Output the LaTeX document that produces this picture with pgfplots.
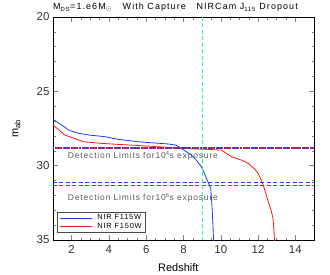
\documentclass[border=0pt]{standalone}
\usepackage{fontspec}
\setmainfont{Liberation Sans}
\usepackage{pgfplots}
\pgfplotsset{compat=1.18}
\definecolor{myblue}{RGB}{20,60,255}
\definecolor{myred}{RGB}{255,20,20}
\definecolor{mygreen}{RGB}{60,240,140}
\begin{document}
\begin{tikzpicture}[x=1bp,y=1bp]
\begin{axis}[
  at={(53bp,35bp)}, anchor=south west,
  scale only axis, width=261bp, height=223bp,
  xmin=1, xmax=15, ymin=20, ymax=35,
  y dir=reverse,
  xtick={2,4,...,14}, ytick={20,25,30,35},
  minor x tick num=3, minor y tick num=4,
  tick align=inside, tick pos=both,
  major tick length=5bp, minor tick length=2.5bp,
  tick label style={font=\fontsize{11.5}{13}\selectfont, color=black!80},
  xticklabel style={yshift=-2bp},
  /pgf/number format/assume math mode=true,
  xlabel={Redshift}, xlabel style={font=\fontsize{11}{13}\selectfont, at={(axis description cs:0.48,-0.142)}, anchor=south, inner sep=0pt},
  ylabel={m\textsubscript{ab}}, ylabel style={font=\fontsize{11}{13}\selectfont, at={(axis description cs:-0.14,0.5)}, anchor=center, inner sep=0pt},
  axis line style={line width=0.6pt},
  tick style={line width=0.5pt},
  clip=true,
  legend style={at={(3.7/261,7.3/223)}, anchor=south west, font=\fontsize{7.5}{8}\selectfont\addfontfeature{LetterSpace=10}, draw=black!70, inner xsep=3pt, inner ysep=2pt, nodes={inner sep=0.8pt}, row sep=0pt, legend cell align=left},
  legend image code/.code={\draw[#1] (0bp,0bp) -- (32bp,0bp);},
]
\addplot[color=myblue, draw=myblue, line width=0.8pt] coordinates {
(1.0,26.88) (1.91,27.65) (2.36,27.82) (3.0,27.95) (3.79,28.05) (4.5,28.23) (5.57,28.39) (6.4,28.47) (7.18,28.54) (7.6,28.62) (7.89,28.85) (8.2,29.1) (8.43,29.3) (8.7,29.65) (8.96,30.07) (9.1,30.45) (9.23,30.85) (9.35,31.2) (9.46,31.52) (9.5,32.2) (9.54,32.98) (9.58,34.0) (9.62,35.2)
};
\addlegendentry{\hspace{4bp}NIR F115W}
\addplot[color=myred, draw=myred, line width=0.8pt] coordinates {
(1.0,27.26) (1.64,27.94) (2.63,28.39) (3.61,28.5) (4.5,28.57) (5.39,28.63) (6.3,28.7) (7.18,28.77) (7.89,28.83) (8.43,28.86) (9.2,28.9) (10.04,28.95) (10.57,29.4) (11.1,29.62) (11.47,29.84) (11.8,30.2) (12.0,30.51) (12.18,31.0) (12.27,31.3) (12.4,31.8) (12.54,32.42) (12.7,33.0) (12.8,33.54) (12.85,34.3) (12.89,35.2)
};
\addlegendentry{\hspace{4bp}NIR F150W}
\addplot[color=myred, draw=myred, line width=1.4pt, dash pattern=on 1.4pt off 1.8pt, forget plot] coordinates {(1,28.8) (15,28.8)};
\addplot[color=myblue, draw=myblue, line width=1.4pt, dash pattern=on 1.4pt off 1.8pt, dash phase=1.6pt, forget plot] coordinates {(1,28.8) (15,28.8)};
\addplot[color=myblue, draw=myblue, line width=1.3pt, dash pattern=on 4pt off 2.5pt, forget plot] coordinates {(1,31.15) (15,31.15)};
\addplot[color=myred, draw=myred, line width=1.3pt, dash pattern=on 4pt off 2.5pt, forget plot] coordinates {(1,31.34) (15,31.34)};
\addplot[color=mygreen, draw=mygreen, dash pattern=on 4pt off 2.5pt, line width=1.2pt, forget plot] coordinates {(9,20) (9,35)};
\node[anchor=west, text=black!65, font=\fontsize{8.5}{9}\selectfont\addfontfeature{LetterSpace=10}, inner sep=0pt] at (axis cs:1.79,29.35) {Detection Limits for10\textsuperscript{4}s exposure};
\node[anchor=west, text=black!65, font=\fontsize{8.5}{9}\selectfont\addfontfeature{LetterSpace=10}, inner sep=0pt] at (axis cs:1.79,32.15) {Detection Limits for10\textsuperscript{6}s exposure};
\end{axis}
\node[anchor=base west, font=\fontsize{9}{10}\selectfont\addfontfeature{LetterSpace=12}, inner sep=0pt] at (53bp,265bp) {M\textsubscript{DS}=1.e6M\textsubscript{$\odot$}\hspace{1.2em}With Capture\hspace{1.2em}NIRCam J\textsubscript{115} Dropout};
\pgfresetboundingbox
\useasboundingbox (0,0) rectangle (330bp,275bp);
\end{tikzpicture}
\end{document}
